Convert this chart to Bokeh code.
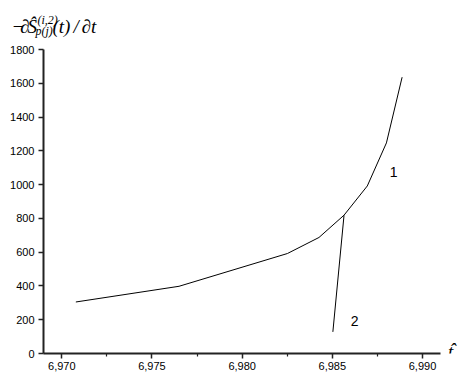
from bokeh.plotting import figure
from bokeh.layouts import column, row
from bokeh.models import FixedTicker, CustomJSTickFormatter, Range1d
from bokeh.core.properties import value
from bokeh.embed import file_html
from bokeh.resources import INLINE

# ---- data ----
curve1_x = [6.97078, 6.97650, 6.98251, 6.98426, 6.98565, 6.98694, 6.98800, 6.98887]
curve1_y = [305, 398, 592, 687, 819, 992, 1247, 1636]
curve2_x = [6.98503, 6.98565]
curve2_y = [128, 819]
x_ticks = [6.970, 6.975, 6.980, 6.985, 6.990]
x_minor = [6.9725, 6.9775, 6.9825, 6.9875]
y_ticks = [0, 200, 400, 600, 800, 1000, 1200, 1400, 1600, 1800]
curve_labels = ["1", "2"]
curve_label_x = [6.9884, 6.98624]
curve_label_y = [1075, 191]
y_title_main = ["\u2212", "\u2202", "\u015C", "(t)", "/", "\u2202t"]
y_title_sup = "(i,2)"
y_title_sub = "p(j)"
x_title = "t"
x_title_hat = "\u02C6"

W, H = 458, 378
TH = 40              # height of the strip carrying the y-axis title
TW = 16              # width of the strip carrying the x-axis title
MW, MH = W - TW, H - TH
serif = value("Liberation Serif")

def blank(w, h):
    f = figure(width=w, height=h, output_backend="svg", toolbar_location=None,
               x_range=Range1d(0, w), y_range=Range1d(h, 0),
               x_axis_location=None, y_axis_location=None,
               min_border_left=0, min_border_right=0, min_border_top=0, min_border_bottom=0)
    f.outline_line_color = None
    f.grid.visible = False
    f.background_fill_color = "white"
    f.border_fill_color = "white"
    return f

# y-axis title strip (positions in px from its top-left)
top = blank(W, TH)
top.text([11, 19.5, 27, 52, 73, 81], [26] * 6, text=y_title_main, text_font=serif,
         text_font_size="19px", text_font_style="italic", text_baseline="alphabetic",
         text_align="left", text_color="black")
top.text([37, 35], [19, 30], text=[y_title_sup, y_title_sub], text_font=serif,
         text_font_size="12px", text_font_style="italic", text_baseline="alphabetic",
         text_align="left", text_color="black")

# main plot
p = figure(width=MW, height=MH, output_backend="svg", toolbar_location=None,
           x_range=Range1d(6.968986, 6.990998), y_range=Range1d(0, 1800),
           min_border_left=43, min_border_right=MW - 440, min_border_top=49 - TH,
           min_border_bottom=MH - (353 - TH))
p.outline_line_color = None
p.xgrid.visible = False
p.ygrid.visible = False
p.background_fill_color = "white"
p.border_fill_color = "white"

p.line(curve1_x, curve1_y, line_color="black", line_width=1)
p.line(curve2_x, curve2_y, line_color="black", line_width=1)
p.text(curve_label_x, curve_label_y, text=curve_labels, text_font=value("Liberation Sans"),
       text_font_size="14px", text_align="center", text_baseline="middle", text_color="black")

xa = p.xaxis[0]
xa.ticker = FixedTicker(ticks=x_ticks, minor_ticks=x_minor)
xa.formatter = CustomJSTickFormatter(code="return tick.toFixed(3).replace('.', ',');")
ya = p.yaxis[0]
ya.ticker = FixedTicker(ticks=y_ticks)
for ax in (xa, ya):
    ax.axis_line_width = 2
    ax.axis_line_color = "#222222"
    ax.major_tick_line_width = 1.5
    ax.major_tick_line_color = "#222222"
    ax.major_tick_out = 5
    ax.major_tick_in = 0
    ax.major_label_text_font = "Liberation Sans"
    ax.major_label_text_font_size = "11px"
    ax.major_label_text_color = "black"
xa.minor_tick_out = 3
xa.minor_tick_in = 0
xa.minor_tick_line_color = "#222222"
xa.minor_tick_line_width = 1.2
xa.major_label_standoff = 3
ya.minor_tick_line_color = None
ya.major_label_standoff = 4

# x-axis title strip ("t" with a hat drawn as two texts)
rt = blank(TW, MH)
rt.text([5.5], [376 - TH], text=[x_title], text_font=serif, text_font_size="19px",
        text_font_style="italic", text_baseline="alphabetic", text_align="left",
        text_color="black")
rt.text([7], [374 - TH], text=[x_title_hat], text_font=serif, text_font_size="19px",
        text_font_style="italic", text_baseline="alphabetic", text_align="left",
        text_color="black")

layout = column(top, row(p, rt, spacing=0), spacing=0)
open("out.html", "w").write(file_html(layout, INLINE))
